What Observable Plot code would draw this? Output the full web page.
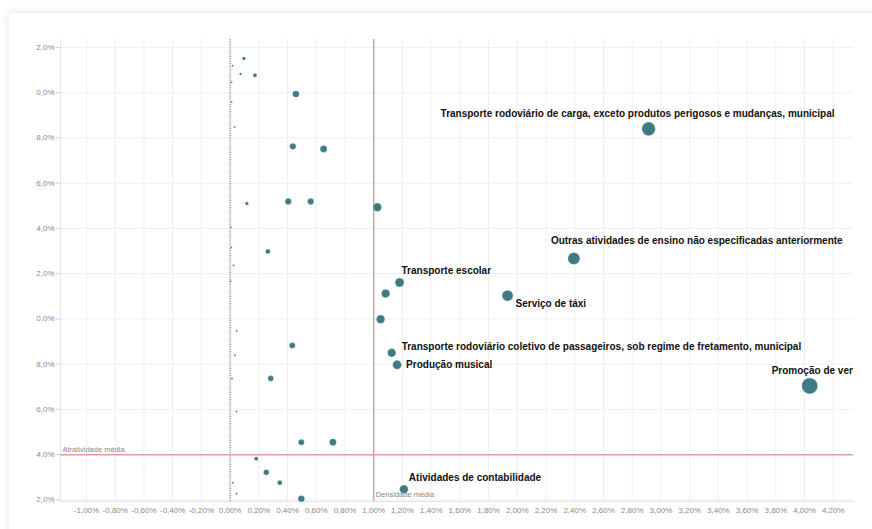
<!DOCTYPE html>
<html>
<head>
<meta charset="utf-8">
<script src="https://cdn.jsdelivr.net/npm/d3@7"></script>
<script src="https://cdn.jsdelivr.net/npm/@observablehq/plot@0.6"></script>
<style>
  html, body { margin: 0; padding: 0; background: #ffffff; width: 872px; height: 529px; overflow: hidden; }
  #card { position: absolute; left: 9px; top: 13px; width: 920px; height: 600px; background: #fff;
          box-shadow: 0 0 9px rgba(0,0,0,0.13); }
  #chart { position: absolute; left: 0; top: 0; }
</style>
</head>
<body>
<div id="card"></div>
<div id="chart"></div>
<script>
// ---- data ----
const atividades = [
  "", "", "", "", "", "", "", "", "", "", "", "", "", "", "", "", "", "", "",
  "Outras atividades de ensino não especificadas anteriormente",
  "Transporte escolar",
  "",
  "Serviço de táxi",
  "", "", "",
  "Transporte rodoviário coletivo de passageiros, sob regime de fretamento, municipal",
  "",
  "Produção musical",
  "", "", "", "", "", "", "", "", "", "",
  "",
  "Atividades de contabilidade",
  "Transporte rodoviário de carga, exceto produtos perigosos e mudanças, municipal",
  "Promoção de vendas"
];
const densidade = [
  0.096, 0.017, 0.073, 0.173, 0.010, 0.458, 0.010, 0.031, 0.437, 0.651,
  0.117, 0.405, 0.561, 1.025, 0.006, 0.008, 0.263, 0.024, 0.003, 2.394,
  1.180, 1.083, 1.932, 1.048, 0.045, 0.433, 1.125, 0.033, 1.163, 0.013,
  0.283, 0.045, 0.496, 0.716, 0.182, 0.252, 0.346, 0.020, 0.045, 0.496,
  1.210, 2.914, 4.036
];
const atratividade = [
  21.51, 21.19, 20.83, 20.77, 20.46, 19.94, 19.59, 18.48, 17.63, 17.51,
  15.10, 15.19, 15.19, 14.94, 14.05, 13.16, 12.98, 12.37, 11.66, 12.67,
  11.61, 11.12, 11.03, 9.99, 9.47, 8.83, 8.50, 8.39, 7.97, 7.37,
  7.37, 5.91, 4.55, 4.55, 3.82, 3.22, 2.76, 2.76, 2.27, 2.05,
  2.47, 18.40, 7.04
];
const porte = [
  3, 1, 1.5, 4, 1, 11, 1, 1, 10, 12,
  3, 10, 10, 18, 1, 1, 6, 1, 1, 36,
  20, 18, 30, 18, 1, 9, 18, 1, 20, 1,
  8, 1, 9, 12, 4, 8, 6, 1, 1, 11,
  18, 46, 64
];
const mediaDensidade = [1.0];
const mediaAtratividade = [4.0];
const xTickValues = [-1.0,-0.8,-0.6,-0.4,-0.2,0,0.2,0.4,0.6,0.8,1.0,1.2,1.4,1.6,1.8,2.0,2.2,2.4,2.6,2.8,3.0,3.2,3.4,3.6,3.8,4.0,4.2];
const yTickValues = [2, 4, 6, 8, 10, 12, 14, 16, 18, 20, 22];
const yTickLabels = ["2,0%", "4,0%", "6,0%", "8,0%", "0,0%", "2,0%", "4,0%", "6,0%", "8,0%", "0,0%", "2,0%"];

// label placement (style only)
const labelLayout = [
  {name: "Transporte rodoviário de carga, exceto produtos perigosos e mudanças, municipal", dx: -11, dy: -15, anchor: "middle"},
  {name: "Outras atividades de ensino não especificadas anteriormente", dx: -23, dy: -18, anchor: "start"},
  {name: "Transporte escolar", dx: 2, dy: -12, anchor: "start"},
  {name: "Serviço de táxi", dx: 8, dy: 8, anchor: "start"},
  {name: "Transporte rodoviário coletivo de passageiros, sob regime de fretamento, municipal", dx: 10, dy: -6, anchor: "start"},
  {name: "Produção musical", dx: 9, dy: 0, anchor: "start"},
  {name: "Promoção de vendas", dx: -38, dy: -15, anchor: "start"},
  {name: "Atividades de contabilidade", dx: 5, dy: -11.5, anchor: "start"}
];

const data = densidade.map((d, i) => ({densidade: d, atratividade: atratividade[i], porte: porte[i], nome: atividades[i]}));
const fmtX = v => v.toFixed(2).replace(".", ",") + "%";
const tickGray = "#8a8a8a";

const labelMarks = labelLayout.map(l => Plot.text(data.filter(d => d.nome === l.name), {
  x: "densidade", y: "atratividade", text: "nome",
  dx: l.dx, dy: l.dy, textAnchor: l.anchor,
  fontSize: 10, fontWeight: "bold", fill: "#111", clip: true
}));

const chart = Plot.plot({
  width: 872, height: 529,
  marginLeft: 60, marginRight: 19, marginTop: 39, marginBottom: 28,
  style: {fontFamily: "'Liberation Sans', Arial, sans-serif", fontSize: "8px", color: tickGray, background: "transparent", overflow: "visible"},
  x: {domain: [-1.181, 4.341], label: null},
  y: {domain: [1.93, 22.35], label: null},
  r: {type: "sqrt", domain: [0, 64], range: [0, 8]},
  marks: [
    Plot.gridX(xTickValues, {stroke: "#efefef", strokeOpacity: 1}),
    Plot.gridY(yTickValues, {stroke: "#efefef", strokeOpacity: 1}),
    Plot.frame({anchor: "left", stroke: "#e6e6e6"}),
    Plot.frame({anchor: "bottom", stroke: "#e2e2e2"}),
    Plot.axisX(xTickValues, {tickFormat: fmtX, tickSize: 0, tickPadding: 6, fill: tickGray, fontSize: 8, label: null}),
    Plot.axisY(yTickValues, {tickFormat: (d, i) => yTickLabels[i], tickSize: 4, tickPadding: 2, stroke: "#cfcfcf", fill: tickGray, fontSize: 8, label: null}),
    Plot.ruleX([0], {stroke: "#777", strokeDasharray: "1.2,1.2", strokeWidth: 1}),
    Plot.ruleX(mediaDensidade, {stroke: "#e79aa3", strokeWidth: 1.5}),
    Plot.ruleY(mediaAtratividade, {stroke: "#e79aa3", strokeWidth: 1.5}),
    Plot.text(mediaAtratividade, {y: d => d, frameAnchor: "left", text: () => "Atratividade média", textAnchor: "start", dx: 2, dy: -5, fontSize: 7.5, fill: "#888"}),
    Plot.text(mediaDensidade, {x: d => d, frameAnchor: "bottom", text: () => "Densidade média", textAnchor: "start", dx: 2, dy: -5, fontSize: 7.5, fill: "#888"}),
    Plot.dot(data, {x: "densidade", y: "atratividade", r: "porte", fill: "#3e7c83", stroke: "#ffffff", strokeWidth: 0.4, strokeOpacity: 0.6}),
    ...labelMarks
  ]
});
document.getElementById("chart").appendChild(chart);
</script>
</body>
</html>
